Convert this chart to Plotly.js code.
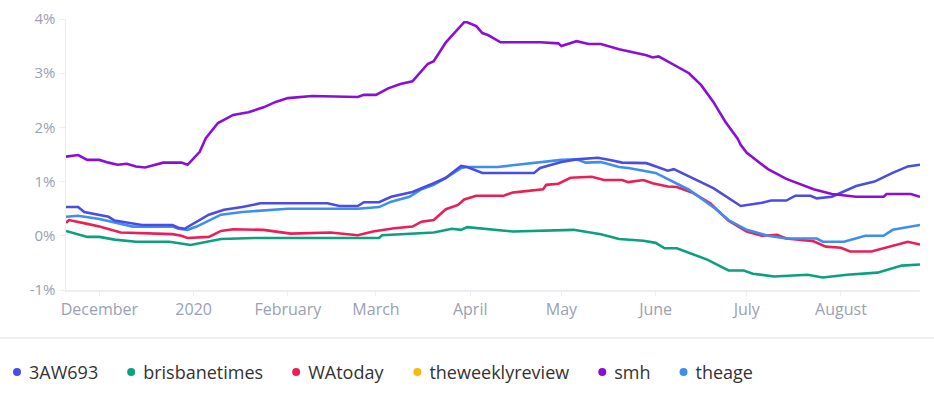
<!DOCTYPE html>
<html>
<head>
<meta charset="utf-8">
<script src="https://cdn.plot.ly/plotly-3.0.1.min.js"></script>
<style>html,body{margin:0;padding:0;background:#fff;}#chart{width:934px;height:396px;}</style>
</head>
<body>
<div id="chart"></div>
<script>
// ---- Data (values in %) ----
const seriesNames = ["3AW693", "brisbanetimes", "WAtoday", "theweeklyreview", "smh", "theage"];
const seriesColors = ["#4a4ce4", "#0c9f80", "#ea1f55", "#f6b90c", "#8a0fd6", "#3d8ef0"];

const aw693Dates = ["2019-11-20","2019-11-24","2019-11-26","2019-12-01","2019-12-04","2019-12-06","2019-12-10","2019-12-15","2019-12-25","2019-12-27","2019-12-29","2020-01-02","2020-01-06","2020-01-11","2020-01-17","2020-01-23","2020-02-14","2020-02-18","2020-02-24","2020-02-26","2020-03-02","2020-03-06","2020-03-13","2020-03-20","2020-03-24","2020-03-26","2020-03-29","2020-03-31","2020-04-05","2020-04-11","2020-04-22","2020-04-24","2020-05-01","2020-05-06","2020-05-13","2020-05-17","2020-05-21","2020-05-29","2020-06-05","2020-06-07","2020-06-20","2020-06-29","2020-07-06","2020-07-09","2020-07-14","2020-07-17","2020-07-22","2020-07-24","2020-07-29","2020-08-06","2020-08-12","2020-08-18","2020-08-23","2020-08-27"];
const aw693Values = [0.53,0.53,0.44,0.39,0.35,0.28,0.24,0.20,0.20,0.15,0.13,0.26,0.39,0.48,0.53,0.60,0.60,0.55,0.55,0.62,0.62,0.72,0.81,0.97,1.07,1.16,1.29,1.27,1.16,1.16,1.16,1.25,1.36,1.41,1.44,1.40,1.35,1.34,1.20,1.23,0.88,0.55,0.61,0.65,0.65,0.74,0.74,0.69,0.72,0.92,1.00,1.16,1.28,1.31];

const brisDates = ["2019-11-20","2019-11-27","2019-12-01","2019-12-06","2019-12-13","2019-12-24","2019-12-31","2020-01-05","2020-01-10","2020-01-21","2020-03-02","2020-03-03","2020-03-20","2020-03-26","2020-03-29","2020-03-31","2020-04-15","2020-05-05","2020-05-14","2020-05-20","2020-05-28","2020-06-01","2020-06-04","2020-06-08","2020-06-18","2020-06-25","2020-06-30","2020-07-03","2020-07-10","2020-07-21","2020-07-26","2020-08-03","2020-08-13","2020-08-21","2020-08-27"];
const brisValues = [0.09,-0.02,-0.02,-0.07,-0.11,-0.11,-0.17,-0.11,-0.06,-0.04,-0.04,0.01,0.06,0.13,0.11,0.16,0.08,0.11,0.03,-0.06,-0.09,-0.13,-0.23,-0.23,-0.44,-0.64,-0.64,-0.70,-0.75,-0.72,-0.77,-0.72,-0.68,-0.55,-0.53];

const waDates = ["2019-11-20","2019-11-21","2019-11-27","2019-12-01","2019-12-08","2019-12-17","2019-12-25","2019-12-28","2019-12-30","2020-01-06","2020-01-10","2020-01-14","2020-01-24","2020-02-02","2020-02-12","2020-02-15","2020-02-24","2020-02-29","2020-03-07","2020-03-13","2020-03-16","2020-03-20","2020-03-24","2020-03-28","2020-03-30","2020-04-03","2020-04-12","2020-04-15","2020-04-17","2020-04-25","2020-04-26","2020-04-30","2020-05-04","2020-05-11","2020-05-15","2020-05-21","2020-05-23","2020-05-28","2020-05-31","2020-06-05","2020-06-08","2020-06-13","2020-06-19","2020-06-25","2020-07-01","2020-07-06","2020-07-11","2020-07-14","2020-07-23","2020-07-27","2020-08-01","2020-08-04","2020-08-11","2020-08-17","2020-08-23","2020-08-27"];
const waValues = [0.24,0.29,0.22,0.17,0.06,0.05,0.03,0.00,-0.04,-0.02,0.09,0.12,0.11,0.04,0.05,0.06,0.01,0.08,0.14,0.17,0.26,0.29,0.49,0.57,0.67,0.74,0.74,0.80,0.81,0.86,0.94,0.96,1.07,1.09,1.03,1.03,0.99,1.03,0.97,0.91,0.90,0.80,0.60,0.28,0.08,0.00,0.02,-0.05,-0.10,-0.20,-0.22,-0.29,-0.29,-0.20,-0.11,-0.16];

const weeklyDates = [];
const weeklyValues = [];

const smhDates = ["2019-11-20","2019-11-24","2019-11-27","2019-12-01","2019-12-04","2019-12-07","2019-12-10","2019-12-13","2019-12-16","2019-12-22","2019-12-28","2019-12-30","2020-01-03","2020-01-05","2020-01-09","2020-01-14","2020-01-19","2020-01-24","2020-01-28","2020-02-01","2020-02-09","2020-02-24","2020-02-26","2020-03-01","2020-03-05","2020-03-09","2020-03-13","2020-03-18","2020-03-20","2020-03-24","2020-03-30","2020-03-31","2020-04-03","2020-04-05","2020-04-07","2020-04-11","2020-04-24","2020-04-30","2020-05-01","2020-05-06","2020-05-10","2020-05-14","2020-05-20","2020-05-29","2020-05-31","2020-06-02","2020-06-12","2020-06-16","2020-06-20","2020-06-24","2020-06-28","2020-06-29","2020-07-01","2020-07-04","2020-07-08","2020-07-14","2020-07-23","2020-07-29","2020-08-06","2020-08-15","2020-08-16","2020-08-24","2020-08-27"];
const smhValues = [1.46,1.49,1.40,1.40,1.35,1.31,1.33,1.28,1.26,1.35,1.35,1.31,1.55,1.80,2.08,2.23,2.28,2.37,2.47,2.54,2.58,2.56,2.60,2.60,2.72,2.80,2.85,3.17,3.22,3.57,3.94,3.94,3.87,3.74,3.70,3.57,3.57,3.55,3.50,3.59,3.54,3.54,3.44,3.33,3.29,3.31,3.00,2.78,2.47,2.10,1.79,1.68,1.53,1.40,1.23,1.05,0.86,0.77,0.72,0.72,0.77,0.77,0.72];

const theageDates = ["2019-11-20","2019-11-24","2019-12-01","2019-12-06","2019-12-12","2019-12-25","2019-12-27","2019-12-30","2020-01-02","2020-01-10","2020-01-17","2020-02-01","2020-02-24","2020-03-02","2020-03-06","2020-03-12","2020-03-16","2020-03-20","2020-03-24","2020-03-29","2020-03-31","2020-04-10","2020-05-01","2020-05-06","2020-05-09","2020-05-14","2020-05-20","2020-05-23","2020-06-01","2020-06-12","2020-06-20","2020-06-25","2020-07-01","2020-07-08","2020-07-14","2020-07-24","2020-07-26","2020-08-02","2020-08-09","2020-08-15","2020-08-18","2020-08-27"];
const theageValues = [0.35,0.37,0.31,0.24,0.17,0.17,0.13,0.11,0.17,0.39,0.44,0.50,0.50,0.53,0.63,0.72,0.86,0.94,1.07,1.25,1.27,1.27,1.40,1.41,1.35,1.36,1.27,1.25,1.16,0.85,0.53,0.29,0.11,0.00,-0.05,-0.05,-0.11,-0.11,0.00,0.00,0.11,0.20];

const xTickVals = ["2019-12-01","2020-01-01","2020-02-01","2020-03-01","2020-04-01","2020-05-01","2020-06-01","2020-07-01","2020-08-01"];
const xTickText = ["December","2020","February","March","April","May","June","July","August"];
const yTickVals = [-1, 0, 1, 2, 3, 4];
const yTickText = ["-1%", "0%", "1%", "2%", "3%", "4%"];

// ---- Build traces ----
const allDates = [aw693Dates, brisDates, waDates, weeklyDates, smhDates, theageDates];
const allValues = [aw693Values, brisValues, waValues, weeklyValues, smhValues, theageValues];

const traces = [];
const drawOrder = [1, 2, 3, 5, 0, 4];
drawOrder.forEach(i => {
  traces.push({
    type: "scatter", mode: "lines",
    x: allDates[i], y: allValues[i],
    name: seriesNames[i], legendgroup: seriesNames[i],
    showlegend: false,
    line: {color: seriesColors[i], width: 2.6, shape: "linear"},
    hoverinfo: "skip"
  });
});
// legend entries (dots)
seriesNames.forEach((n, i) => {
  traces.push({
    type: "scatter", mode: "markers",
    x: [null], y: [null],
    name: n, legendgroup: n, showlegend: true,
    marker: {color: seriesColors[i], size: 8, symbol: "circle"}
  });
});

const axisGray = "#eceef3";
const layout = {
  width: 934, height: 396,
  margin: {l: 66, r: 14, t: 19, b: 106},
  paper_bgcolor: "#ffffff", plot_bgcolor: "#ffffff",
  font: {family: "Open Sans, sans-serif", color: "#9aa1b3", size: 15},
  showlegend: true,
  xaxis: {
    type: "date",
    range: ["2019-11-20", "2020-08-27"],
    tickmode: "array", tickvals: xTickVals, ticktext: xTickText,
    showgrid: false, zeroline: false,
    showline: true, linecolor: axisGray, linewidth: 1.5,
    ticks: "outside", ticklen: 4, tickcolor: axisGray, tickwidth: 1,
    tickfont: {size: 16, color: "#9aa1b3"}
  },
  yaxis: {
    range: [-1, 4],
    tickmode: "array", tickvals: yTickVals, ticktext: yTickText,
    showgrid: false, zeroline: false,
    showline: true, linecolor: axisGray, linewidth: 1.5,
    ticks: "outside", ticklen: 6, tickcolor: axisGray, tickwidth: 1,
    tickfont: {size: 15, color: "#9aa1b3"}
  },
  legend: {
    orientation: "h",
    xref: "container", yref: "container",
    x: 0, xanchor: "left",
    y: 0.06, yanchor: "middle",
    font: {size: 18, color: "#333333", family: "Open Sans, sans-serif"},
    itemclick: false, itemdoubleclick: false,
    traceorder: "normal"
  },
  shapes: [{
    type: "line", xref: "paper", yref: "paper",
    x0: -66/854, x1: 1 + 14/854,
    y0: -48/271, y1: -48/271,
    line: {color: "#eceef2", width: 2}
  }]
};

Plotly.newPlot("chart", traces, layout, {displayModeBar: false, staticPlot: true}).then(gd => {
  // tighten legend: dots closer to labels, whole legend flush left as in the reference
  gd.querySelectorAll(".legend .legendpoints").forEach(g => {
    g.setAttribute("transform", "translate(-3,0)");
  });
  gd.querySelectorAll(".legend .legendtext").forEach(t => {
    t.setAttribute("x", "29");
  });
});
</script>
</body>
</html>
